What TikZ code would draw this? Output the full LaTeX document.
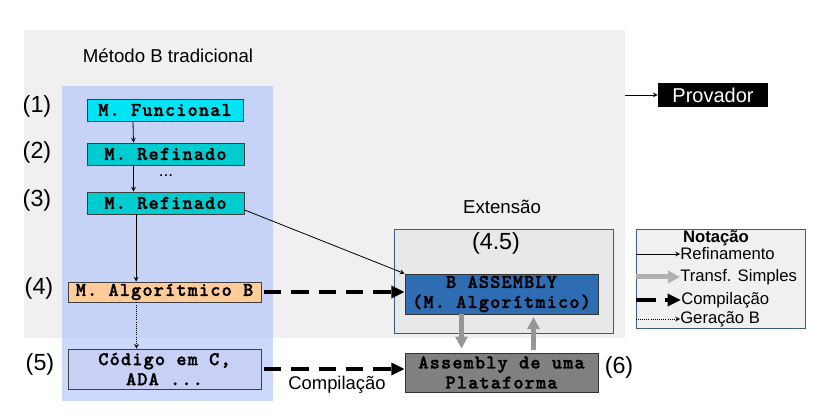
\documentclass[tikz,border=0pt]{standalone}
\usepackage{fontspec}
\setmainfont{Liberation Sans}
\newfontfamily\codefont{lmmonolt10-bold}[Extension=.otf,LetterSpace=6,FakeBold=1.6]
\usetikzlibrary{arrows.meta}

\definecolor{bggray}{RGB}{240,240,240}
\definecolor{colblue}{RGB}{170,192,250}
\definecolor{funcyan}{RGB}{0,228,245}
\definecolor{refteal}{RGB}{0,204,208}
\definecolor{algpeach}{RGB}{255,204,153}
\definecolor{codlav}{RGB}{200,208,245}
\definecolor{extgray}{RGB}{232,232,232}
\definecolor{extedge}{RGB}{60,90,130}
\definecolor{asmblue}{RGB}{46,108,180}
\definecolor{platgray}{RGB}{128,128,128}
\definecolor{arrowgray}{RGB}{150,150,150}

\tikzset{
    mbox/.style={draw=black!75,line width=0.6pt,inner sep=0pt,align=center,
        font=\fontsize{14.5}{15}\selectfont\codefont},
    num/.style={font=\fontsize{17.5}{20}\selectfont},
    title/.style={font=\fontsize{14}{16}\selectfont},
    legtext/.style={anchor=west,inner sep=0pt,font=\fontsize{12.5}{14}\selectfont},
    refarrow/.style={->,line width=0.6pt},
    comparrow/.style={-{Triangle[length=10pt,width=9pt]},line width=3pt,
        dash pattern=on 13pt off 7.5pt},
    transfarrow/.style={-{Triangle[length=9pt,width=9pt]},line width=3.75pt,
        draw=arrowgray},
}

\begin{document}
\begin{tikzpicture}[x=0.75pt,y=-0.75pt,>=stealth]
    \useasboundingbox (0,0) rectangle (831,416);

    % regioes de fundo
    \node[fill=bggray,minimum width=450.75pt,minimum height=231pt,inner sep=0pt]
        (bg) at (324.5,184) {};
    \node[fill=colblue,fill opacity=0.6,minimum width=158.25pt,
        minimum height=236.25pt,inner sep=0pt] (col) at (167.5,243.5) {};
    \node[title] (ttrad) at (168,56) {Método B tradicional};

    % numeracao
    \node[num] (n1) at (37,106) {(1)};
    \node[num] (n2) at (37,152) {(2)};
    \node[num] (n3) at (37,200) {(3)};
    \node[num] (n4) at (39,288) {(4)};
    \node[num] (n5) at (40,364) {(5)};
    \node[num] (n6) at (619,367) {(6)};

    % metodo B tradicional
    \node[mbox,fill=funcyan,minimum width=117pt,minimum height=16.5pt]
        (fun) at (165,110) {M. Funcional};
    \node[mbox,fill=refteal,minimum width=117.75pt,minimum height=16.5pt]
        (ref2) at (165.5,154) {M. Refinado};
    \node[font=\fontsize{13}{14}\selectfont] (dots) at (166,176) {...};
    \node[mbox,fill=refteal,minimum width=117.75pt,minimum height=16.5pt]
        (ref3) at (165.5,203) {M. Refinado};
    \node[mbox,fill=algpeach,minimum width=144.75pt,minimum height=15pt]
        (alg) at (164.5,292) {M. Algorítmico B};
    \node[mbox,fill=codlav,minimum width=144.75pt,minimum height=30pt]
        (cod) at (164.5,369) {Código em C,\\ADA ...};

    % extensao
    \node[draw=extedge,line width=0.6pt,fill=extgray,minimum width=164.25pt,
        minimum height=78pt,inner sep=0pt] (ext) at (503.5,281) {};
    \node[title] (text) at (502,207) {Extensão};
    \node[num] (n45) at (496,243) {(4.5)};
    \node[mbox,fill=asmblue,draw=black!80,minimum width=144.75pt,
        minimum height=30pt] (basm) at (501.5,294) {B ASSEMBLY\\(M. Algorítmico)};
    \node[mbox,fill=platgray,draw=black!80,minimum width=144.75pt,
        minimum height=29.25pt] (plat) at (501.5,372.5)
        {Assembly de uma\\Plataforma};

    \node[fill=black,text=white,minimum width=82.5pt,minimum height=18pt,
        inner sep=0pt,font=\fontsize{15}{16}\selectfont] (prov) at (713,95)
        {Provador};

    % conectores
    \draw[refarrow] ([xshift=-24pt]fun.south) -- ([xshift=-24pt]ref2.north);
    \draw[refarrow] ([xshift=-24pt]ref2.south) -- ([xshift=-24pt]ref3.north);
    \draw[refarrow] ([xshift=-22pt]ref3.south) -- ([xshift=-22pt]ref3.south |- alg.north);
    \draw[refarrow,densely dotted] ([xshift=-21pt]alg.south)
        -- ([xshift=-21pt]alg.south |- cod.north);
    \draw[refarrow] (ref3.-5) -- (basm.north west);
    \draw[refarrow] (bg.east |- prov.west) -- (prov.west);
    \draw[comparrow,shorten <=2pt] (alg.east) -- (alg.east -| basm.west);
    \draw[comparrow,shorten <=2pt] (cod.east) -- (cod.east -| plat.west);
    \node[font=\fontsize{13.8}{15}\selectfont] (lcomp) at (337,385) {Compilação};
    \draw[transfarrow,shorten >=3pt] ([xshift=-30pt]basm.south)
        -- ([xshift=-30pt]plat.north);
    \draw[transfarrow,shorten >=2pt,shorten <=2pt] ([xshift=24pt]plat.north)
        -- ([xshift=24pt]basm.south);

    % notacao
    \node[draw=extedge,line width=0.6pt,fill=bggray,minimum width=126.75pt,
        minimum height=74.25pt,inner sep=0pt] (leg) at (720.5,278.5) {};
    \node[font=\fontsize{12.5}{14}\selectfont\bfseries] (lnot) at (716,238) {Notação};
    \node[legtext] (l1) at (680,254) {Refinamento};
    \node[legtext] (l2) at (680,277) {Transf. Simples};
    \node[legtext] (l3) at (681,300) {Compilação};
    \node[legtext] (l4) at (680,319) {Geração B};
    \draw[refarrow] (leg.west |- l1.west) -- (l1.west);
    \draw[transfarrow,draw=arrowgray!75] (leg.west |- l2.west) -- (l2.west);
    \draw[comparrow,dash pattern=on 15pt off 7pt] (leg.west |- l3.west) -- (l3.west);
    \draw[refarrow,densely dotted] (leg.west |- l4.west) -- (l4.west);
\end{tikzpicture}
\end{document}
